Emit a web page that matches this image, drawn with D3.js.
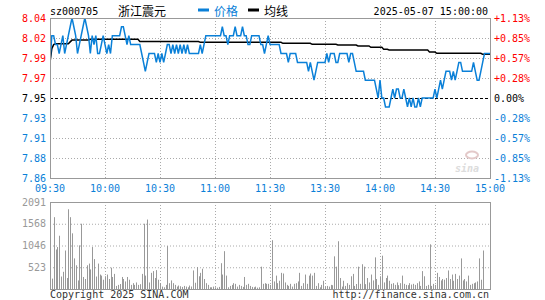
<!DOCTYPE html>
<html>
<head>
<meta charset="utf-8">
<title>sz000705 分时</title>
<script src="https://d3js.org/d3.v7.min.js"></script>
<style>
    body { margin: 0; background: #fff; }
    svg text { font-family: "DejaVu Sans Mono", monospace; font-size: 10px; }
    svg text.cn { font-family: "Noto Sans CJK SC", sans-serif; font-size: 12px; }
</style>
</head>
<body>
<svg id="chart" width="545" height="300"></svg>
<script>
    const code = 'sz000705';
    const stockName = '浙江震元';
    const stamp = '2025-05-07 15:00:00';
    const prevClose = 7.95;
    const range = 0.0113;

    const priceTicks = ['8.04', '8.02', '7.99', '7.97', '7.95', '7.93', '7.91', '7.88', '7.86'];
    const pctTicks = ['+1.13%', '+0.85%', '+0.57%', '+0.28%', '0.00%', '-0.28%', '-0.57%', '-0.85%', '-1.13%'];
    const timeTicks = ['09:30', '10:00', '10:30', '11:00', '11:30', '13:30', '14:00', '14:30', '15:00'];
    const volTicks = ['2091', '1568', '1046', '523'];
    const volMax = 2091;

    // one value per minute, 09:30-11:30 then 13:01-15:00
    const price = [
        7.99,8.02,8.02,8.01,8.01,8.00,8.01,8.02,8.00,8.01, 8.02,8.03,8.04,8.03,8.02,8.00,8.01,8.02,8.03,8.04,
        8.03,8.02,8.00,8.02,8.01,8.02,8.00,8.00,8.01,8.02,
        8.01,8.00,8.01,8.00,8.02,8.02,8.02,8.02,8.02,8.03, 8.03,8.02,8.01,8.02,8.01,8.01,8.01,8.01,8.01,8.01,
        8.00,7.99,7.98,7.99,8.00,8.00,8.00,8.00,7.99,8.00,
        7.99,8.00,7.99,8.00,8.01,8.01,8.00,8.01,8.00,8.01, 8.00,8.01,8.00,8.01,8.00,8.01,8.00,8.00,8.00,8.00,
        8.00,8.00,8.01,8.00,8.01,8.02,8.02,8.02,8.02,8.02,
        8.02,8.02,8.02,8.02,8.03,8.02,8.02,8.01,8.02,8.02, 8.02,8.03,8.02,8.02,8.02,8.03,8.02,8.02,8.01,8.01,
        8.02,8.02,8.02,8.02,8.02,8.01,8.01,8.00,8.01,8.02,
        8.01,8.01,8.01,8.01,8.01,8.01,8.00,8.00,8.00,8.00, 7.99,8.00,8.00,8.00,8.00,7.99,7.99,7.99,7.99,7.99,
        7.99,7.98,7.99,7.98,7.97,7.98,7.99,7.99,7.99,7.99,
        7.99,8.00,7.99,8.00,8.00,8.00,7.99,7.99,8.00,8.00, 8.00,8.00,8.00,7.99,8.00,8.00,7.99,7.98,7.98,7.98,
        7.98,7.98,7.97,7.97,7.97,7.97,7.97,7.97,7.96,7.95,
        7.97,7.95,7.95,7.94,7.94,7.94,7.95,7.96,7.95,7.96, 7.96,7.95,7.95,7.96,7.95,7.94,7.95,7.94,7.95,7.94,
        7.94,7.95,7.94,7.95,7.95,7.95,7.95,7.95,7.95,7.95,
        7.96,7.95,7.96,7.97,7.96,7.97,7.98,7.98,7.98,7.97, 7.98,7.97,7.98,7.99,7.99,7.98,7.98,7.98,7.98,7.98,
        7.98,7.99,7.98,7.97,7.97,7.98,7.99,8.00,8.00,8.00, 8.00
    ];

    // average price line, as [value, minutes] runs
    const avgRuns = [
        [7.99, 1], [8.0055, 1], [8.010, 1], [8.011, 8], [8.013, 1], [8.015, 10], [8.016, 27],
        [8.0135, 33], [8.0125, 45], [8.0114, 16], [8.0103, 14], [8.0095, 11], [8.0084, 7],
        [8.0069, 7], [8.0047, 3], [8.0039, 22], [8.0016, 4], [8.0002, 25], [7.999, 5]
    ];

    const volume = [
        610,250,1726,950,1008,1280,300,413,925,264, 1916,1726,1338,735,570,206,1049,1569,289,240,
        570,611,471,1008,719,300,611,347,322,223,
        306,347,240,512,289,363,74,99,120,289, 240,182,289,223,99,140,99,157,99,116,
        363,1569,322,1669,157,388,430,264,454,223,
        140,58,41,99,1033,140,206,140,99,58, 83,66,50,74,58,41,83,60,446,150,
        529,306,388,487,240,140,99,41,41,58,
        41,33,50,620,347,909,322,41,74,99, 140,124,58,99,74,50,289,99,124,74,
        50,41,58,33,41,537,124,140,124,124,
        99,1173,182,322,140,198,388,372,157,99, 74,124,58,124,140,182,388,74,140,347,
        124,322,372,322,388,74,140,41,99,198,
        58,74,58,99,91,785,537,1148,264,58, 198,74,140,99,306,363,74,120,537,124,
        595,537,116,264,157,347,206,760,240,99,
        306,801,157,264,322,198,124,140,99,157, 91,140,322,124,99,91,140,107,124,99,
        140,182,74,430,306,74,99,1074,74,124,
        99,388,289,206,240,223,264,446,240,347, 198,363,240,322,735,206,240,182,322,99,
        124,140,157,182,735,223,925,0,0,0, 0
    ];

    const avg = avgRuns.flatMap(([v, n]) => Array(n).fill(v));

    const svg = d3.select('#chart');
    const left = 50, right = 490;
    const pTop = 18, pBottom = 178;
    const vTop = 202, vBottom = 289;
    const red = '#ff0000', blue = '#0a80d8', gridColor = '#aaaaaa';

    const x = d3.scaleLinear().domain([0, 240]).range([left, right]);
    const y = d3.scaleLinear()
        .domain([prevClose * (1 - range), prevClose * (1 + range)])
        .range([pBottom, pTop]);
    const yv = d3.scaleLinear().domain([0, volMax]).range([vBottom, vTop]);

    const rowY = d3.scaleLinear().domain([0, 8]).range([pTop, pBottom]);
    const vRowY = d3.scaleLinear().domain([0, 4]).range([vTop, vBottom]);
    const labelColor = i => i < 4 ? red : (i === 4 ? '#000' : blue);

    // header
    svg.append('text').attr('x', 50).attr('y', 15).text(code);
    svg.append('text').attr('class', 'cn').attr('x', 118).attr('y', 16).text(stockName);
    svg.append('rect').attr('x', 198).attr('y', 8.5).attr('width', 11).attr('height', 3).attr('fill', blue);
    svg.append('text').attr('class', 'cn').attr('x', 214).attr('y', 16).attr('fill', blue).text('价格');
    svg.append('rect').attr('x', 248).attr('y', 8.5).attr('width', 11).attr('height', 3).attr('fill', '#000');
    svg.append('text').attr('class', 'cn').attr('x', 264).attr('y', 16).text('均线');
    svg.append('text').attr('x', 488).attr('y', 15).attr('text-anchor', 'end').text(stamp);

    // price grid
    const grid = svg.append('g').attr('stroke-width', 1).attr('fill', 'none');
    d3.range(1, 8).forEach(i => {
        grid.append('line')
            .attr('x1', left).attr('x2', right)
            .attr('y1', rowY(i) + 0.5).attr('y2', rowY(i) + 0.5)
            .attr('stroke', i === 4 ? '#000' : gridColor)
            .attr('stroke-dasharray', i === 4 ? '3,2' : '1,2');
    });
    d3.range(1, 8).forEach(i => {
        [[pTop, pBottom], [vTop, vBottom]].forEach(([a, b]) => {
            grid.append('line')
                .attr('x1', Math.round(x(i * 30)) + 0.5).attr('x2', Math.round(x(i * 30)) + 0.5)
                .attr('y1', a).attr('y2', b)
                .attr('stroke', gridColor).attr('stroke-dasharray', '1,2');
        });
    });
    d3.range(1, 4).forEach(i => {
        grid.append('line')
            .attr('x1', left).attr('x2', right)
            .attr('y1', vRowY(i) + 0.5).attr('y2', vRowY(i) + 0.5)
            .attr('stroke', gridColor).attr('stroke-dasharray', '1,2');
    });

    // watermark (sina logo, faded)
    const wm = svg.append('g').attr('transform', 'translate(455,172)');
    wm.append('ellipse').attr('cx', 17).attr('cy', -17).attr('rx', 6).attr('ry', 3.5)
        .attr('fill', 'none').attr('stroke', '#e3c9c9').attr('stroke-width', 2);
    wm.append('text').text('sina')
        .attr('font-family', 'Verdana, "DejaVu Sans", sans-serif')
        .attr('font-size', 19).attr('font-weight', 'bold').attr('font-style', 'italic')
        .attr('fill', '#dcdcdc');

    // axes labels
    priceTicks.forEach((t, i) => {
        svg.append('text').attr('x', 46).attr('y', rowY(i) + 3.5)
            .attr('text-anchor', 'end').attr('fill', labelColor(i)).text(t);
    });
    pctTicks.forEach((t, i) => {
        svg.append('text').attr('x', 494).attr('y', rowY(i) + 3.5)
            .attr('fill', labelColor(i)).text(t);
    });
    timeTicks.forEach((t, i) => {
        svg.append('text').attr('x', x(i * 30)).attr('y', 192)
            .attr('text-anchor', 'middle').attr('fill', blue).text(t);
    });
    volTicks.forEach((t, i) => {
        svg.append('text').attr('x', 46).attr('y', vRowY(i) + 3.5)
            .attr('text-anchor', 'end').attr('fill', '#999').text(t);
    });

    // volume bars
    svg.append('g').selectAll('line')
        .data(volume)
        .join('line')
        .attr('x1', (d, i) => Math.round(x(i)) + 0.5)
        .attr('x2', (d, i) => Math.round(x(i)) + 0.5)
        .attr('y1', yv(0))
        .attr('y2', d => yv(d))
        .attr('stroke', '#999')
        .attr('stroke-width', 1);

    // price and average lines
    svg.append('clipPath').attr('id', 'pclip')
        .append('rect').attr('x', left).attr('y', pTop).attr('width', right - left).attr('height', pBottom - pTop);
    const line = d3.line().x((d, i) => x(i)).y(d => y(d));
    const lines = svg.append('g').attr('clip-path', 'url(#pclip)');
    lines.append('path').datum(avg)
        .attr('d', line).attr('fill', 'none')
        .attr('stroke', '#000').attr('stroke-width', 1.5);
    lines.append('path').datum(price)
        .attr('d', line).attr('fill', 'none')
        .attr('stroke', blue).attr('stroke-width', 1.5);

    // frames
    [[pTop, pBottom], [vTop, vBottom]].forEach(([a, b]) => {
        svg.append('rect')
            .attr('x', left + 0.5).attr('y', a + 0.5)
            .attr('width', right - left).attr('height', b - a)
            .attr('fill', 'none').attr('stroke', '#999');
    });

    // footer
    svg.append('text').attr('x', 50).attr('y', 298).attr('fill', '#333').text('Copyright 2025 SINA.COM');
    svg.append('text').attr('x', 489).attr('y', 298).attr('text-anchor', 'end')
        .attr('fill', '#333').text('http://finance.sina.com.cn');
</script>
</body>
</html>
